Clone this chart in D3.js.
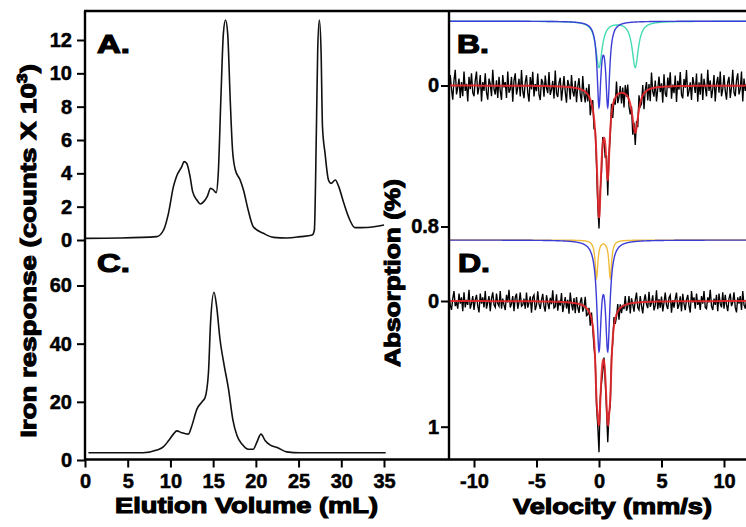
<!DOCTYPE html>
<html><head><meta charset="utf-8">
<script src="https://cdn.jsdelivr.net/npm/d3@7"></script>
<style>
body{margin:0;background:#fff;}
svg text{font-family:'Liberation Sans',Arial,sans-serif;font-weight:bold;fill:#000;}
</style></head><body>
<svg id="c" width="746" height="527"></svg>
<script>
// ---------------- DATA ----------------
// Panel A: elution volume (mL) vs iron response (counts x 10^3)
const volumeA = [0, 4, 8.4, 9.2, 9.77, 10.35, 10.7, 11.33, 11.6, 11.9, 12.3, 12.6, 13.1, 13.5, 13.9, 14.3, 14.7, 15.04, 15.35, 15.6, 15.9, 16.2, 16.45, 16.7, 17.0, 17.27, 17.6, 18.16, 18.55, 19.1, 19.7, 20.9, 22.07, 23.6, 25.2, 26.6, 26.85, 27.08, 27.24, 27.43, 27.63, 27.8, 28.1, 28.5, 28.8, 29.3, 29.7, 30.3, 31.0, 31.6, 33.0, 35.0];
const responseA = [0.1, 0.12, 0.2, 0.6, 1.6, 3.2, 3.8, 4.4, 4.7, 4.6, 3.8, 2.9, 2.4, 2.16, 2.3, 2.6, 3.1, 3.0, 2.84, 4.0, 8.4, 12.4, 13.2, 12.4, 8.4, 5.4, 4.2, 3.6, 3.0, 1.8, 0.8, 0.4, 0.16, 0.12, 0.2, 0.3, 0.6, 6.4, 11.4, 13.2, 11.4, 6.8, 5.2, 3.6, 3.4, 3.6, 3.2, 2.2, 1.2, 0.74, 0.75, 0.9];
// Panel C
const volumeC = [0.4, 6.8, 8.4, 9.2, 9.77, 10.35, 10.75, 11.3, 12.1, 12.5, 13.1, 13.7, 14.06, 14.45, 14.7, 15.1, 15.4, 15.8, 16.3, 16.8, 17.3, 17.8, 18.4, 19.1, 19.7, 20.1, 20.6, 21.1, 21.7, 22.5, 23.6, 25.2, 35.2];
const responseC = [2.5, 2.5, 3.4, 4.6, 6.6, 8.9, 10.0, 9.4, 8.9, 11.7, 17.5, 20.0, 21.5, 30, 47.4, 57.7, 53, 41.6, 32.4, 24.4, 14, 8.3, 5.4, 3.7, 3.7, 6, 8.9, 6.6, 5.1, 4.3, 2.8, 2.5, 2.5];

const ticksA = [0, 2, 4, 6, 8, 10, 12];
const ticksC = [0, 20, 40, 60];
const ticksVolume = [0, 5, 10, 15, 20, 25, 30, 35];
const ticksVelocity = [-10, -5, 0, 5, 10];
const ticksB = [0, 0.8];
const ticksD = [0, 1];

// Mossbauer fits: quadrupole doublets (line positions mm/s, half width, depth %)
const doubletsB = [
  {name: "teal", lines: [0.0, 2.9], halfWidth: 0.3, depth: 0.26},
  {name: "blue", lines: [0.0, 0.7], halfWidth: 0.18, depth: 0.46}
];
const doubletsD = [
  {name: "yellow", lines: [-0.2, 0.9], halfWidth: 0.13, depth: 0.3},
  {name: "blue", lines: [0.0, 0.7], halfWidth: 0.21, depth: 0.82}
];
const componentOffsetB = -0.365;  // components drawn shifted above the spectrum
const componentOffsetD = -0.485;
// measured channels: velocity from -12 to 12 mm/s, step 0.1; residuals (x0.01 %) about the fit
const velocityStart = -12, velocityStep = 0.1;
const residualB = [
4,-6,2,8,-3,-9,5,1,-4,7,-2,6,-8,3,-1,9,-5,2,-7,4,
6,-3,-8,5,1,-6,9,-2,3,-7,4,8,-4,-1,6,-9,2,5,-3,7,
-5,3,8,-6,1,-2,7,-8,4,2,-5,9,-3,-7,5,1,-4,6,-9,3,
7,-2,-6,4,9,-5,2,-8,6,-1,3,-7,5,8,-4,-2,6,-6,1,4,
-8,5,2,-3,7,-9,4,6,-2,-5,8,1,-6,3,9,-4,-1,7,-7,2,
5,-4,8,-1,-6,3,7,-8,2,6,-3,4,-7,9,1,-5,6,-2,4,7,
6,-3,5,-4,2,8,-5,9,-2,3,-6,7,-1,4,-8,5,2,-4,6,-3,
8,-5,1,-7,4,6,-2,9,-3,7,-4,5,-8,2,3,-6,9,-1,-5,6,
-3,7,-9,2,5,-4,8,1,-6,3,-2,9,-7,4,6,-5,1,-8,7,-1,
4,-6,9,-3,2,-8,5,7,-4,1,-9,6,3,-2,8,-5,-1,4,-7,9,
-2,5,-7,8,-4,1,6,-9,3,-3,7,2,-6,9,-1,-5,4,-8,6,2,
-6,3,8,-2,-5,7,1,-9,4,6,-3,-7,5,2,-8,9,-4,3,-1,6,
-3];
const residualD = [
-5,3,7,-2,-8,4,1,6,-6,2,-3,8,-7,5,-1,3,-9,6,2,-4,
7,-1,-5,4,9,-6,2,-3,5,-8,6,1,-4,8,-2,-7,3,5,-6,2,
4,-8,6,-2,3,7,-5,1,-9,5,2,-4,8,-3,-6,6,1,-7,4,3,
-2,6,-7,5,1,-4,9,-3,-5,7,3,-8,2,6,-1,-6,4,8,-5,1,
6,-3,2,-9,5,4,-6,7,-1,3,-7,8,2,-4,5,-2,9,-8,1,6,
-4,8,-5,3,7,-2,-6,5,1,-8,6,4,-3,9,-5,2,7,-4,6,8,
22,-4,6,8,-3,5,4,14,-2,6,-5,3,-7,4,2,-6,8,-3,5,-1,
3,-7,5,2,-6,8,-4,1,7,-2,-8,4,6,-5,3,9,-1,-6,2,5,
-8,4,1,-5,7,3,-9,6,-2,5,-4,8,1,-7,3,6,-3,-5,9,-1,
5,-2,-7,6,3,-4,8,-6,2,7,-1,-5,4,9,-8,1,-3,6,-6,3,
-1,7,-4,2,-8,5,6,-3,1,-9,4,7,-2,3,-5,8,-6,2,5,-7,
6,-5,3,8,-2,-6,4,1,-7,5,9,-3,2,-4,7,-8,3,6,-1,-5,
2];

// ---------------- DRAWING ----------------
const svg = d3.select('#c');
const colors = {blue: '#3c3cd6', teal: '#46dcb2', yellow: '#f0bc3c', red: '#e8262a'};
const FRAME_TOP = 11, AXIS_Y = 459.5;

const xL = d3.scaleLinear().domain([0, 35]).range([85, 384]);
const yA = d3.scaleLinear().domain([0, 12]).range([240, 40]);
const yC = d3.scaleLinear().domain([0, 60]).range([460, 285.5]);
const xR = d3.scaleLinear().domain([-12, 12]).range([449, 749]);
const yB = d3.scaleLinear().domain([0, 0.8]).range([85.5, 226.5]);
const yD = d3.scaleLinear().domain([0, 1]).range([301, 426.7]);

function lor(v, c, g, d) { const t = (v - c) / g; return d / (1 + t * t); }
function doubletAt(db, v) { return db.lines.reduce((s, c) => s + lor(v, c, db.halfWidth, db.depth), 0); }
function fitAt(dbs, v) { return dbs.reduce((s, db) => s + doubletAt(db, v), 0); }

// chromatograms
const lineA = d3.line().x(d => xL(d[0])).y(d => yA(d[1])).curve(d3.curveMonotoneX);
const lineC = d3.line().x(d => xL(d[0])).y(d => yC(d[1])).curve(d3.curveMonotoneX);
svg.append('path').attr('d', lineA(volumeA.map((v, i) => [v, responseA[i]])))
  .attr('fill', 'none').attr('stroke', '#111').attr('stroke-width', 1.6);
svg.append('path').attr('d', lineC(volumeC.map((v, i) => [v, responseC[i]])))
  .attr('fill', 'none').attr('stroke', '#111').attr('stroke-width', 1.6);

// Mossbauer spectra
const clip = svg.append('clipPath').attr('id', 'rc').append('rect')
  .attr('x', 450).attr('y', 0).attr('width', 300).attr('height', 459);
const gR = svg.append('g').attr('clip-path', 'url(#rc)');
const fineV = d3.range(-12, 12.001, 0.02);

function drawSpectrum(dbs, offset, residual, yS) {
  const lineF = d3.line().x(d => xR(d[0])).y(d => yS(d[1]));
  // components
  dbs.forEach(db => {
    gR.append('path').attr('d', lineF(fineV.map(v => [v, offset + doubletAt(db, v)])))
      .attr('fill', 'none').attr('stroke', colors[db.name]).attr('stroke-width', 1.4);
  });
  // data
  const pts = residual.map((r, i) => {
    const v = velocityStart + i * velocityStep;
    return [v, fitAt(dbs, v) + r / 100];
  });
  gR.append('path').attr('d', lineF(pts)).attr('fill', 'none')
    .attr('stroke', '#000').attr('stroke-width', 1.35);
  // fit
  gR.append('path').attr('d', lineF(fineV.map(v => [v, fitAt(dbs, v)])))
    .attr('fill', 'none').attr('stroke', colors.red).attr('stroke-width', 2).attr('stroke-opacity', 0.9);
}
drawSpectrum(doubletsB, componentOffsetB, residualB, yB);
drawSpectrum(doubletsD, componentOffsetD, residualD, yD);

// frame and axis lines
const frame = svg.append('g').attr('stroke', '#000').attr('stroke-width', 2.4).attr('fill', 'none');
frame.append('line').attr('x1', 84).attr('x2', 746).attr('y1', FRAME_TOP).attr('y2', FRAME_TOP);
frame.append('line').attr('x1', 85).attr('x2', 85).attr('y1', FRAME_TOP).attr('y2', AXIS_Y);
frame.append('line').attr('x1', 449).attr('x2', 449).attr('y1', FRAME_TOP).attr('y2', AXIS_Y);
frame.append('line').attr('x1', 84).attr('x2', 746).attr('y1', AXIS_Y).attr('y2', AXIS_Y);

function styleAxis(g, fs) {
  g.select('.domain').remove();
  g.selectAll('.tick line').attr('stroke', '#000').attr('stroke-width', 2);
  g.selectAll('.tick text').attr('font-size', fs).attr('fill', '#000')
    .attr('stroke', '#000').attr('stroke-width', 0.5);
}
const fmt = d => String(d);
svg.append('g').attr('transform', 'translate(85,0)')
  .call(d3.axisLeft(yA).tickValues(ticksA).tickSize(8).tickPadding(5).tickFormat(fmt)).call(g => styleAxis(g, 20));
svg.append('g').attr('transform', 'translate(85,0)')
  .call(d3.axisLeft(yC).tickValues(ticksC).tickSize(8).tickPadding(5).tickFormat(fmt)).call(g => styleAxis(g, 20));
svg.append('g').attr('transform', 'translate(449,0)')
  .call(d3.axisLeft(yB).tickValues(ticksB).tickSize(8).tickPadding(2).tickFormat(fmt)).call(g => styleAxis(g, 20));
svg.append('g').attr('transform', 'translate(449,0)')
  .call(d3.axisLeft(yD).tickValues(ticksD).tickSize(8).tickPadding(2).tickFormat(fmt)).call(g => styleAxis(g, 20));
svg.append('g').attr('transform', `translate(0,${AXIS_Y})`)
  .call(d3.axisBottom(xL).tickValues(ticksVolume).tickSize(8).tickPadding(6).tickFormat(fmt)).call(g => styleAxis(g, 20));
svg.append('g').attr('transform', `translate(0,${AXIS_Y})`)
  .call(d3.axisBottom(xR).tickValues(ticksVelocity).tickSize(8).tickPadding(6).tickFormat(fmt)).call(g => styleAxis(g, 20));

// stretched bold texts
function stretched(x, y, rot, anchor, fs, target, build, sw) {
  const g = svg.append('g').attr('transform', `translate(${x},${y}) rotate(${rot})`);
  const t = g.append('text').attr('text-anchor', anchor).attr('font-size', fs)
    .attr('stroke', '#000').attr('stroke-width', sw);
  build(t);
  const w = t.node().getComputedTextLength();
  t.attr('transform', `scale(${target / w},1)`);
}
const plain = s => t => t.text(s);
stretched(246.5, 513, 0, 'middle', 22, 263, plain('Elution Volume (mL)'), 1.1);
stretched(612.5, 514, 0, 'middle', 22, 199, plain('Velocity (mm/s)'), 1.1);
stretched(36, 251, -90, 'middle', 22, 374, t => {
  t.append('tspan').text('Iron response (counts X 10');
  t.append('tspan').attr('font-size', 14).attr('dy', -9).text('3');
  t.append('tspan').attr('dy', 9).text(')');
}, 1.1);
stretched(400, 273, -90, 'middle', 22, 188, plain('Absorption (%)'), 1.1);
stretched(97, 53, 0, 'start', 25, 33, plain('A.'), 1.2);
stretched(457, 53, 0, 'start', 25, 32, plain('B.'), 1.2);
stretched(97, 272, 0, 'start', 25, 33, plain('C.'), 1.2);
stretched(458, 272, 0, 'start', 25, 32, plain('D.'), 1.2);
</script>
</body></html>
